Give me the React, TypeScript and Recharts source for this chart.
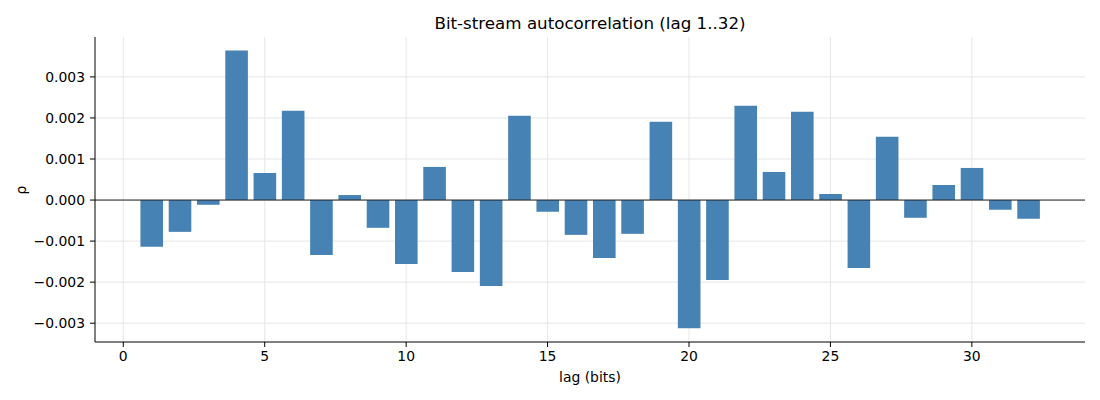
import React from 'react';
import { BarChart, Bar, XAxis, YAxis, CartesianGrid, ReferenceLine, Label } from 'recharts';

// --- data ---
const lags = [
  1, 2, 3, 4, 5, 6, 7, 8, 9, 10, 11, 12, 13, 14, 15, 16,
  17, 18, 19, 20, 21, 22, 23, 24, 25, 26, 27, 28, 29, 30, 31, 32,
];
const rho = [
  -0.00114, -0.000775, -0.000115, 0.003643, 0.00066, 0.002176, -0.001337, 0.000122,
  -0.000676, -0.001557, 0.000807, -0.001752, -0.002095, 0.002054, -0.000285, -0.000848,
  -0.00141, -0.000823, 0.001907, -0.003121, -0.001948, 0.002298, 0.000685, 0.002152,
  0.000147, -0.001654, 0.00154, -0.000432, 0.000367, 0.000782, -0.000236, -0.000456,
];
const xTicks = [0, 5, 10, 15, 20, 25, 30];
const yTicks = [-0.003, -0.002, -0.001, 0, 0.001, 0.002, 0.003];

const chartData = lags.map((lag, i) => ({ lag, rho: rho[i] }));

const FONT = '"DejaVu Sans", sans-serif';
const FS = 13.9;
const BAR_COLOR = '#4682b4';
const GRID_COLOR = '#e6e6e6';

const fmtY = (v: number) => {
  const s = Math.abs(v).toFixed(3);
  return v < -1e-12 ? '\u2212' + s : s;
};

const App: React.FC = () => {
  return (
    <div style={{ position: 'absolute', left: 0, top: 0, width: 1100, height: 400, background: '#fff', fontFamily: FONT }}>
      {/* title, centred over the plot area */}
      <div
        style={{
          position: 'absolute',
          left: 95,
          width: 990,
          top: 12,
          textAlign: 'center',
          fontSize: 16.7,
          lineHeight: '22px',
          color: '#000',
        }}
      >
        Bit-stream autocorrelation (lag 1..32)
      </div>
      <BarChart
        width={1100}
        height={400}
        data={chartData}
        margin={{ top: 37, right: 15, bottom: 0, left: 0 }}
        style={{ fontFamily: FONT }}
      >
        <CartesianGrid stroke={GRID_COLOR} strokeWidth={1} verticalValues={xTicks} horizontalValues={yTicks} />
        <XAxis
          dataKey="lag"
          type="number"
          domain={[-1, 34]}
          ticks={xTicks}
          allowDataOverflow
          height={58}
          axisLine={{ stroke: '#000', strokeWidth: 1 }}
          tickLine={{ stroke: '#000' }}
          tickSize={5}
          tickMargin={4}
          tick={{ fill: '#000', fontSize: FS, fontFamily: FONT }}
        >
          <Label
            content={() => (
              <text x={590} y={382} textAnchor="middle" fontSize={FS} fontFamily={FONT} fill="#000">
                lag (bits)
              </text>
            )}
          />
        </XAxis>
        <YAxis
          type="number"
          domain={[-0.003458, 0.003972]}
          ticks={yTicks}
          allowDataOverflow
          width={95}
          tickFormatter={fmtY}
          axisLine={{ stroke: '#000', strokeWidth: 1 }}
          tickLine={{ stroke: '#000' }}
          tickSize={5}
          tickMargin={5}
          tick={{ fill: '#000', fontSize: FS, fontFamily: FONT }}
        >
          <Label
            content={() => (
              <text
                x={26}
                y={190}
                textAnchor="middle"
                fontSize={FS}
                fontFamily={FONT}
                fill="#000"
                transform="rotate(-90 26 190)"
              >
                ρ
              </text>
            )}
          />
        </YAxis>
        <Bar dataKey="rho" fill={BAR_COLOR} barSize={22.6} isAnimationActive={false} />
        <ReferenceLine y={0} stroke="#222" strokeWidth={1} ifOverflow="extendDomain" />
      </BarChart>
    </div>
  );
};

export default App;
